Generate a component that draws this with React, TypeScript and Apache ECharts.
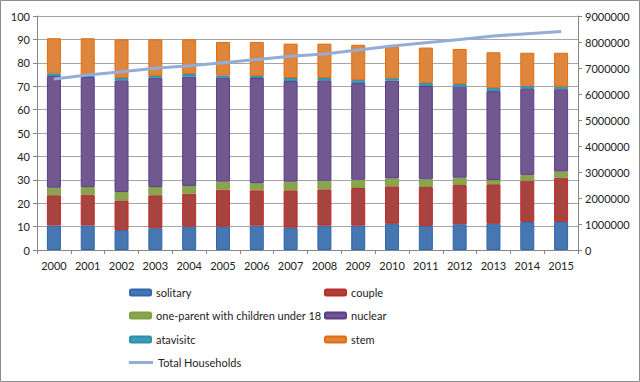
import React, { useEffect, useRef } from "react";
import * as echarts from "echarts";

const years = ["2000","2001","2002","2003","2004","2005","2006","2007","2008","2009","2010","2011","2012","2013","2014","2015"];
const solitary = [10.5,10.5,8.5,9.3,10.0,10.0,10.4,9.5,10.4,10.4,11.2,10.3,11.0,11.2,12.0,12.0];
const couple = [12.9,13.1,12.7,14.1,14.1,15.8,15.1,16.0,15.5,16.1,16.0,16.6,16.8,16.9,17.6,18.9];
const oneParent = [3.2,3.3,3.6,3.5,3.3,3.4,3.1,3.7,3.7,3.5,3.4,3.3,3.1,1.8,2.5,2.6];
const nuclear = [47.8,47.0,47.7,46.7,46.7,44.4,44.9,43.0,42.9,41.4,41.8,39.9,38.9,38.0,37.0,35.2];
const atavisitc = [1.1,0.5,1.0,0.8,1.1,1.0,0.9,1.3,1.0,1.2,1.0,1.3,1.1,1.3,1.1,1.1];
const stem = [15.0,16.1,16.5,15.6,14.8,14.3,14.5,14.7,14.7,15.1,13.5,15.1,15.0,15.3,14.1,14.5];
const totalHouseholds = [6580000,6730000,6860000,6990000,7090000,7200000,7330000,7450000,7540000,7690000,7850000,7975000,8100000,8230000,8320000,8400000];

const FONT = "Lato, 'Open Sans', sans-serif";

export default function App() {
  const ref = useRef<HTMLDivElement>(null);
  useEffect(() => {
    if (!ref.current) return;
    const chart = echarts.init(ref.current, null, { renderer: "svg" });
    const barSeries = (name: string, data: number[], color: string, border: string) => ({
      name,
      type: "bar",
      stack: "total",
      data,
      barWidth: 14,
      itemStyle: { color, borderColor: border, borderWidth: 1 },
    });
    const legendItem = (name: string, left: number, top: number) => ({
      data: [name],
      left,
      top,
      padding: 0,
      itemWidth: 21,
      itemHeight: 6,
      textStyle: { fontSize: 11, color: "#222", fontFamily: FONT },
    });
    chart.setOption({
      animation: false,
      backgroundColor: "#fff",
      textStyle: { fontFamily: FONT },
      graphic: [
        {
          type: "rect",
          shape: { x: 0.5, y: 0.5, width: 639, height: 381 },
          style: { fill: "none", stroke: "#8c8c8c", lineWidth: 1 },
          silent: true,
        },
      ],
      grid: { left: 37, right: 62, top: 16, bottom: 132 },
      legend: [
        legendItem("solitary", 129, 287),
        legendItem("couple", 324, 287),
        legendItem("one-parent with children under 18", 129, 310),
        legendItem("nuclear", 324, 310),
        legendItem("atavisitc", 129, 334),
        legendItem("stem", 324, 334),
        {
          ...legendItem("Total Households", 129, 357),
          data: [{ name: "Total Households", icon: "rect" }],
          itemWidth: 24,
          itemHeight: 3,
        },
      ],
      xAxis: {
        type: "category",
        data: years,
        boundaryGap: true,
        axisLine: { lineStyle: { color: "#868686" } },
        axisTick: { show: true, alignWithLabel: false, length: 4, lineStyle: { color: "#868686" } },
        axisLabel: { fontSize: 11, color: "#222", margin: 10, interval: 0, fontFamily: FONT },
      },
      yAxis: [
        {
          type: "value",
          min: 0,
          max: 100,
          interval: 10,
          axisLine: { show: true, lineStyle: { color: "#868686" } },
          axisTick: { show: true, length: 4, lineStyle: { color: "#868686" } },
          axisLabel: { fontSize: 11, color: "#222", margin: 7, fontFamily: FONT },
          splitLine: { show: true, lineStyle: { color: "#a6a6a6", width: 1 } },
        },
        {
          type: "value",
          min: 0,
          max: 9000000,
          interval: 1000000,
          position: "right",
          axisLine: { show: true, lineStyle: { color: "#868686" } },
          axisTick: { show: true, length: 4, lineStyle: { color: "#868686" } },
          axisLabel: {
            fontSize: 11,
            color: "#222",
            margin: 7,
            fontFamily: FONT,
            formatter: (v: number) => String(v),
          },
          splitLine: { show: false },
        },
      ],
      series: [
        barSeries("solitary", solitary, "#4677b1", "#2f66ac"),
        barSeries("couple", couple, "#a8443f", "#c0282a"),
        barSeries("one-parent with children under 18", oneParent, "#89a54e", "#7e9f44"),
        barSeries("nuclear", nuclear, "#71588f", "#5c3d8a"),
        barSeries("atavisitc", atavisitc, "#3f9bb5", "#2a8fb0"),
        barSeries("stem", stem, "#de853e", "#e46c0a"),
        {
          name: "Total Households",
          type: "line",
          yAxisIndex: 1,
          data: totalHouseholds,
          symbol: "none",
          z: 10,
          lineStyle: { color: "#93acd8", width: 3 },
          itemStyle: { color: "#93acd8" },
        },
      ],
    });
    return () => chart.dispose();
  }, []);
  return (
    <div
      ref={ref}
      style={{ position: "fixed", left: 0, top: 0, width: 640, height: 382 }}
    />
  );
}
